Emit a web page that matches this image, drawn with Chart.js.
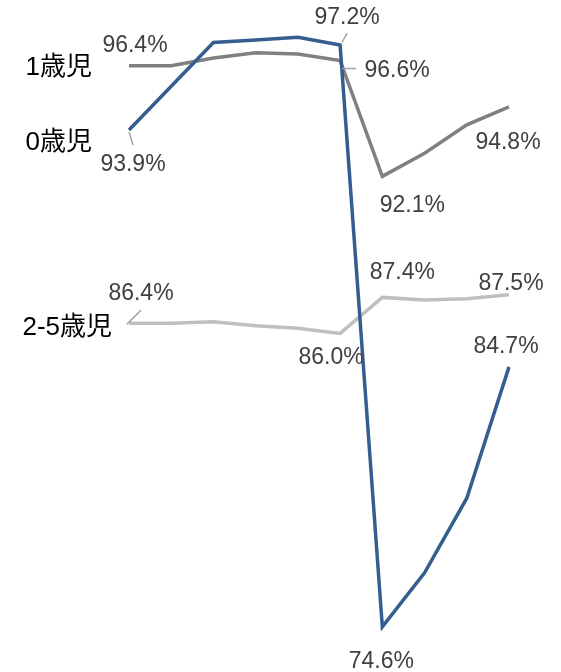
<!DOCTYPE html>
<html>
<head>
<meta charset="utf-8">
<script src="https://cdn.jsdelivr.net/npm/chart.js@4"></script>
<style>
  html, body { margin: 0; padding: 0; background: #fff; }
  #wrap { width: 561px; height: 672px; }
</style>
</head>
<body>
<div id="wrap"><canvas id="chart"></canvas></div>
<script>
// data
const categories = ['1', '2', '3', '4', '5', '6', '7', '8', '9', '10'];
const seriesNames = ['0歳児', '1歳児', '2-5歳児'];
const age0 = [93.9, 95.6, 97.3, 97.4, 97.5, 97.2, 74.6, 76.7, 79.6, 84.7];
const age1 = [96.4, 96.4, 96.7, 96.9, 96.85, 96.6, 92.1, 93.0, 94.1, 94.8];
const age25 = [86.4, 86.4, 86.45, 86.3, 86.2, 86.0, 87.4, 87.3, 87.35, 87.5];

// which points get a value label, and where it sits (offset from the point)
const labelSpots = [
  [ // 0歳児
    { i: 0, dx: 4, dy: 35, leader: [0, 2, 4, 15] },
    { i: 5, dx: 7, dy: -27, leader: [2, -3, 7, -12] },
    { i: 6, dx: -1, dy: 35 },
    { i: 9, dx: -3, dy: -20 },
  ],
  [ // 1歳児
    { i: 0, dx: 6, dy: -20 },
    { i: 5, dx: 57, dy: 10, leader: [2, 8, 16, 8] },
    { i: 6, dx: 30, dy: 29 },
    { i: 9, dx: -1, dy: 36 },
  ],
  [ // 2-5歳児
    { i: 0, dx: 12, dy: -29, leader: [-2, 1, 12, -13] },
    { i: 5, dx: -9, dy: 24 },
    { i: 6, dx: 20, dy: -25 },
    { i: 9, dx: 2, dy: -11 },
  ],
];
const nameSpots = [ { dx: -37, dy: 13 }, { dx: -37, dy: 2 }, { dx: -17, dy: 5 } ];

const FONT = '"Liberation Sans", Arial, "Noto Sans CJK JP", sans-serif';

const labelPlugin = {
  id: 'labels',
  afterDatasetsDraw(chart) {
    const ctx = chart.ctx;
    const x = chart.scales.x, y = chart.scales.y;
    ctx.save();
    chart.data.datasets.forEach((ds, d) => {
      // series name on the left
      const px = x.getPixelForValue(0), py = y.getPixelForValue(ds.data[0]);
      ctx.font = '26px ' + FONT;
      ctx.fillStyle = '#000';
      ctx.textAlign = 'right';
      ctx.textBaseline = 'middle';
      ctx.fillText(ds.label, px + nameSpots[d].dx, py + nameSpots[d].dy);

      labelSpots[d].forEach(s => {
        const cx = x.getPixelForValue(s.i), cy = y.getPixelForValue(ds.data[s.i]);
        if (s.leader) {
          ctx.strokeStyle = '#a6a6a6';
          ctx.lineWidth = 1.5;
          ctx.beginPath();
          ctx.moveTo(cx + s.leader[0], cy + s.leader[1]);
          ctx.lineTo(cx + s.leader[2], cy + s.leader[3]);
          ctx.stroke();
        }
        ctx.fillStyle = '#404040';
        ctx.textAlign = 'center';
        ctx.font = '23px ' + FONT;
        ctx.fillText(ds.data[s.i].toFixed(1) + '%', cx + s.dx, cy + s.dy);
      });
    });
    ctx.restore();
  }
};

new Chart(document.getElementById('chart'), {
  type: 'line',
  data: {
    labels: categories,
    datasets: [
      { label: seriesNames[0], data: age0, borderColor: '#335e8e' },
      { label: seriesNames[1], data: age1, borderColor: '#808080' },
      { label: seriesNames[2], data: age25, borderColor: '#bfbfbf' },
    ],
  },
  options: {
    responsive: true,
    maintainAspectRatio: false,
    animation: false,
    layout: { padding: { left: 129, right: 52, top: 0, bottom: 0 } },
    elements: {
      line: { borderWidth: 3.5, tension: 0, borderJoinStyle: 'miter' },
      point: { radius: 0 },
    },
    plugins: { legend: { display: false }, tooltip: { enabled: false } },
    scales: {
      x: { display: false, offset: false },
      y: { display: false, min: 72.85, max: 98.95 },
    },
  },
  plugins: [labelPlugin],
});
</script>
</body>
</html>
